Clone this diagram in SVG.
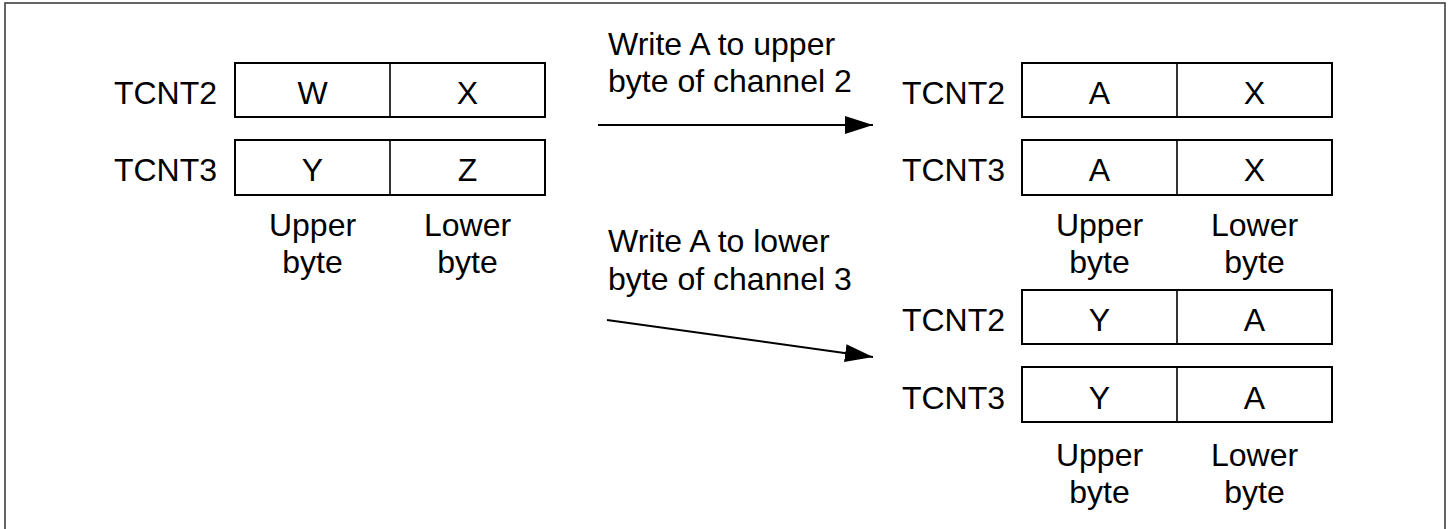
<svg xmlns="http://www.w3.org/2000/svg" width="1450" height="529" viewBox="0 0 1450 529">
<defs>
<style>
text{font-family:"Liberation Sans",Arial,sans-serif;font-size:32px;fill:#000}
.c{text-anchor:middle}
.r{text-anchor:end}
.box{fill:#fff;stroke:#000;stroke-width:2}
.div{stroke:#000;stroke-width:1.6}
.con{stroke:#000;stroke-width:2;fill:none}
</style>
<marker id="ah" viewBox="0 0 28 18" refX="28" refY="9" markerWidth="28" markerHeight="18" markerUnits="userSpaceOnUse" orient="auto">
<path d="M0,0 L28,9 L0,18 Z" fill="#000"/>
</marker>
</defs>
<rect x="5" y="3" width="1440" height="560" fill="#fff" stroke="#333" stroke-width="1.5"/>

<g id="left-regs">
<text class="r" x="217" y="104">TCNT2</text>
<rect class="box" x="235" y="63" width="310" height="54"/>
<line class="div" x1="390" y1="63" x2="390" y2="117"/>
<text class="c" x="312.5" y="104">W</text>
<text class="c" x="467.5" y="104">X</text>
<text class="r" x="217" y="181">TCNT3</text>
<rect class="box" x="235" y="140" width="310" height="55"/>
<line class="div" x1="390" y1="140" x2="390" y2="195"/>
<text class="c" x="312.5" y="181">Y</text>
<text class="c" x="467.5" y="181">Z</text>
<text class="c" x="312.5" y="236">Upper</text>
<text class="c" x="312.5" y="273">byte</text>
<text class="c" x="467.5" y="236">Lower</text>
<text class="c" x="467.5" y="273">byte</text>
</g>

<g id="right-top-regs">
<text class="r" x="1005" y="104">TCNT2</text>
<rect class="box" x="1022" y="63" width="310" height="54"/>
<line class="div" x1="1177" y1="63" x2="1177" y2="117"/>
<text class="c" x="1099.5" y="104">A</text>
<text class="c" x="1254.5" y="104">X</text>
<text class="r" x="1005" y="181">TCNT3</text>
<rect class="box" x="1022" y="140" width="310" height="55"/>
<line class="div" x1="1177" y1="140" x2="1177" y2="195"/>
<text class="c" x="1099.5" y="181">A</text>
<text class="c" x="1254.5" y="181">X</text>
<text class="c" x="1099.5" y="236">Upper</text>
<text class="c" x="1099.5" y="273">byte</text>
<text class="c" x="1254.5" y="236">Lower</text>
<text class="c" x="1254.5" y="273">byte</text>
</g>

<g id="right-bottom-regs">
<text class="r" x="1005" y="331">TCNT2</text>
<rect class="box" x="1022" y="290" width="310" height="54"/>
<line class="div" x1="1177" y1="290" x2="1177" y2="344"/>
<text class="c" x="1099.5" y="331">Y</text>
<text class="c" x="1254.5" y="331">A</text>
<text class="r" x="1005" y="409">TCNT3</text>
<rect class="box" x="1022" y="367" width="310" height="55"/>
<line class="div" x1="1177" y1="367" x2="1177" y2="422"/>
<text class="c" x="1099.5" y="409">Y</text>
<text class="c" x="1254.5" y="409">A</text>
<text class="c" x="1099.5" y="466">Upper</text>
<text class="c" x="1099.5" y="503">byte</text>
<text class="c" x="1254.5" y="466">Lower</text>
<text class="c" x="1254.5" y="503">byte</text>
</g>

<g id="label-upper">
<text x="608" y="55">Write A to upper</text>
<text x="608" y="92">byte of channel 2</text>
</g>
<g id="label-lower">
<text x="608" y="252">Write A to lower</text>
<text x="608" y="290">byte of channel 3</text>
</g>

<g id="connectors">
<line class="con" x1="598" y1="125" x2="873" y2="125" marker-end="url(#ah)"/>
<line class="con" x1="607" y1="320" x2="873" y2="357" marker-end="url(#ah)"/>
</g>
</svg>
